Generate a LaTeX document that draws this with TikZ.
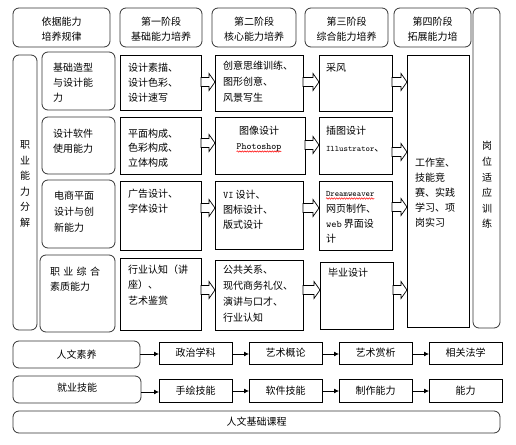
\documentclass[tikz,border=0pt]{standalone}
\usepackage{fontspec}
\setmainfont{Noto Sans CJK SC}
\newfontfamily\lat{Latin Modern Mono}
\usetikzlibrary{calc,arrows.meta,decorations.pathmorphing}
\begin{document}
\begin{tikzpicture}[x=1pt,y=-1pt,
  every node/.style={inner sep=0pt, outer sep=0pt},
  rbox/.style={draw=black!80, line width=0.8pt, rounded corners=6pt, anchor=north west, align=center, font=\fontsize{10}{15}\selectfont},
  sbox/.style={draw=black, line width=0.8pt, anchor=north west, align=center, font=\fontsize{10}{15}\selectfont},
  txt/.style={anchor=base west, align=left, font=\fontsize{10}{15}\selectfont},
  htxt/.style={anchor=base, align=center, font=\fontsize{10}{15}\selectfont},
  vtxt/.style={align=center, font=\fontsize{10}{15.6}\selectfont},
  blockarrow/.style={draw=black, fill=white, line width=0.7pt, to path={
    let \p1=(\tikztostart), \p2=(\tikztotarget) in
    (\x1,\y1+4.5pt) -- (\x2-6pt,\y1+4.5pt) -- (\x2-6pt,\y1+8.5pt) -- (\x2,\y1)
    -- (\x2-6pt,\y1-8.5pt) -- (\x2-6pt,\y1-4.5pt) -- (\x1,\y1-4.5pt) -- cycle}},
  smallarrow/.style={draw=black, line width=0.8pt, -{Latex[length=5pt,width=5pt]}},
  squiggle/.style={draw=red, line width=0.5pt, decorate, decoration={snake, amplitude=0.7pt, segment length=2.5pt}}
]
\useasboundingbox (0,0) rectangle (516,444);

% header row
\node[rbox, minimum width=97pt, minimum height=39pt] (h0) at (13,8) {};
\node[htxt] (h0t) at (61.5,41) {依据能力\\培养规律};
\node[rbox, minimum width=82pt, minimum height=39pt] (h1) at (120,8) {};
\node[htxt] (h1t) at (161,41) {第一阶段\\基础能力培养};
\node[rbox, minimum width=84pt, minimum height=39pt] (h2) at (212,8) {};
\node[htxt] (h2t) at (254,41) {第二阶段\\核心能力培养};
\node[rbox, minimum width=83pt, minimum height=39pt] (h3) at (305,8) {};
\node[htxt] (h3t) at (346.5,41) {第三阶段\\综合能力培养};
\node[rbox, minimum width=77pt, minimum height=39pt] (h4) at (394,8) {};
\node[htxt] (h4t) at (432.5,41) {第四阶段\\拓展能力培};

% tall side boxes
\node[rbox, minimum width=24pt, minimum height=275pt] (L) at (13,55) {};
\node[vtxt] (Lt) at (25,184) {职\\业\\能\\力\\分\\解};
\node[rbox, minimum width=27pt, minimum height=320pt] (R) at (473,8) {};
\node[vtxt] (Rt) at (487,185) {岗\\位\\适\\应\\训\\练};

% column 1 (rounded)
\node[rbox, minimum width=73pt, minimum height=58pt] (a1) at (42,52) {};
\node[txt] (a1t) at (53,101) {基础造型\\与设计能\\力};
\node[rbox, minimum width=73pt, minimum height=57pt] (a2) at (42,117) {};
\node[txt] (a2t) at (53,152) {设计软件\\使用能力};
\node[rbox, minimum width=73pt, minimum height=68pt] (a3) at (42,180) {};
\node[txt, font=\fontsize{10}{16}\selectfont] (a3t) at (54,231) {电商平面\\设计与创\\新能力};
\node[rbox, minimum width=75pt, minimum height=77pt] (a4) at (40,255) {};
\node[txt] (a4t) at (50,290) {\makebox[50pt][s]{职\hfill 业\hfill 综\hfill 合}\\素质能力};

% column 2
\node[sbox, minimum width=81pt, minimum height=55pt] (b1) at (120,55) {};
\node[txt] (b1t) at (128,101) {设计素描、\\设计色彩、\\设计速写};
\node[sbox, minimum width=81pt, minimum height=57pt] (b2) at (120,117) {};
\node[txt, font=\fontsize{10}{14.5}\selectfont] (b2t) at (128,166) {平面构成、\\色彩构成、\\立体构成};
\node[sbox, minimum width=81pt, minimum height=69pt] (b3) at (120,181) {};
\node[txt] (b3t) at (128,212) {广告设计、\\字体设计};
\node[sbox, minimum width=81pt, minimum height=72pt] (b4) at (120,258) {};
\node[txt, font=\fontsize{10}{15.5}\selectfont] (b4t) at (128,304) {行业认知（讲\\座）、\\艺术鉴赏};

% column 3
\node[sbox, minimum width=88pt, minimum height=56pt] (c1) at (215,55) {};
\node[txt, font=\fontsize{10}{16}\selectfont] (c1t) at (223,101) {创意思维训练、\\图形创意、\\风景写生};
\node[sbox, minimum width=90pt, minimum height=57pt] (c2) at (215,117) {};
\node[anchor=base, font=\fontsize{10}{15}\selectfont] (c2t1) at (259,134) {图像设计};
\node[anchor=base, font=\lat\fontsize{9.5}{10}\selectfont] (c2t2) at (259,149) {Photoshop};
\node[sbox, minimum width=88pt, minimum height=68pt] (c3) at (215,181) {};
\node[txt] (c3t) at (223,228) {{\lat VI} 设计、\\图标设计、\\版式设计};
\node[sbox, minimum width=88pt, minimum height=70pt] (c4) at (215,260) {};
\node[txt, font=\fontsize{10}{15.7}\selectfont] (c4t) at (223,321) {公共关系、\\现代商务礼仪、\\演讲与口才、\\行业认知};

% column 4
\node[sbox, minimum width=73pt, minimum height=56pt] (d1) at (319,55) {};
\node[txt] (d1t) at (326,71) {采风};
\node[sbox, minimum width=73pt, minimum height=57pt] (d2) at (319,117) {};
\node[txt, font=\fontsize{10}{17}\selectfont] (d2t) at (326,151) {插图设计\\{\lat\fontsize{8.3}{10}\selectfont Illustrator}、};
\node[sbox, minimum width=73pt, minimum height=69pt] (d3) at (319,181) {};
\node[anchor=base west, font=\lat\fontsize{8.3}{10}\selectfont] (d3t1) at (326,196) {Dreamweaver};
\node[txt] (d3t2) at (326,242) {网页制作、\\{\lat web} 界面设\\计};
\node[sbox, minimum width=73pt, minimum height=67pt] (d4) at (320,262) {};
\node[txt] (d4t) at (328,276) {毕业设计};

% big box
\node[sbox, minimum width=62pt, minimum height=272pt] (E) at (407,55) {};
\node[txt] (Et) at (415,226) {工作室、\\技能竞\\赛、实践\\学习、项\\岗实习};

% spell-check squiggles
\draw[squiggle] ([yshift=-2.5pt]c2t2.base west) -- ([yshift=-2.5pt]c2t2.base east);
\draw[squiggle] ([yshift=-2.5pt]d3t1.base west) -- ([yshift=-2.5pt]d3t1.base east);

% block arrows
\draw[blockarrow] (b1.east |- 0,82) to (c1.west |- 0,82);
\draw[blockarrow] (b2.east |- 0,143) to (c2.west |- 0,143);
\draw[blockarrow] (b3.east |- 0,208) to (c3.west |- 0,208);
\draw[blockarrow] (b4.east |- 0,290) to (c4.west |- 0,290);
\draw[blockarrow] (c1.east |- 0,82) to (d1.west |- 0,82);
\draw[blockarrow] (c2.east |- 0,145) to (d2.west |- 0,145);
\draw[blockarrow] (c3.east |- 0,208) to (d3.west |- 0,208);
\draw[blockarrow] (c4.east |- 0,290) to (d4.west |- 0,290);
\draw[blockarrow] (d1.east |- 0,82) to (E.west |- 0,82);
\draw[blockarrow] (d2.east |- 0,152) to (E.west |- 0,152);
\draw[blockarrow] (d3.east |- 0,207) to (E.west |- 0,207);
\draw[blockarrow] (d4.east |- 0,290) to (E.west |- 0,290);

% bottom rows
\node[rbox, minimum width=127pt, minimum height=27pt] (p0) at (13,341) {人文素养};
\node[sbox, minimum width=73pt, minimum height=22pt] (p1) at (159,342) {政治学科};
\node[sbox, minimum width=73pt, minimum height=22pt] (p2) at (249,342) {艺术概论};
\node[sbox, minimum width=73pt, minimum height=22pt] (p3) at (339,342) {艺术赏析};
\node[sbox, minimum width=73pt, minimum height=22pt] (p4) at (429,342) {相关法学};
\draw[smallarrow] (p0.east |- 0,354) -- (p1.west |- 0,354);
\draw[smallarrow] (p1.east |- 0,354) -- (p2.west |- 0,354);
\draw[smallarrow] (p2.east |- 0,354) -- (p3.west |- 0,354);
\draw[smallarrow] (p3.east |- 0,354) -- (p4.west |- 0,354);

\node[rbox, minimum width=128pt, minimum height=27pt] (q0) at (13,376) {};
\node[anchor=center, font=\fontsize{10}{15}\selectfont] (q0t) at (77,388) {就业技能};
\node[sbox, minimum width=73pt, minimum height=23pt] (q1) at (159,379) {手绘技能};
\node[sbox, minimum width=73pt, minimum height=23pt] (q2) at (249,379) {软件技能};
\node[sbox, minimum width=73pt, minimum height=23pt] (q3) at (339,379) {制作能力};
\node[sbox, minimum width=73pt, minimum height=23pt] (q4) at (429,379) {能力};
\draw[smallarrow] (q0.east |- 0,392) -- (q1.west |- 0,392);
\draw[smallarrow] (q1.east |- 0,391) -- (q2.west |- 0,391);
\draw[smallarrow] (q2.east |- 0,391) -- (q3.west |- 0,391);
\draw[smallarrow] (q3.east |- 0,391) -- (q4.west |- 0,391);

\node[rbox, minimum width=487pt, minimum height=22pt] (Z) at (13,411) {人文基础课程};
\end{tikzpicture}
\end{document}
